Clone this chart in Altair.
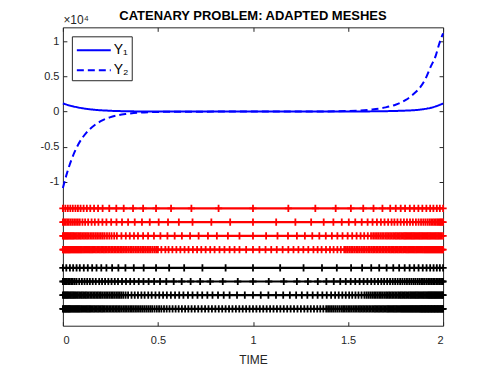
import altair as alt
import pandas as pd

# ---- solution curves (values in units of 10^4) ----
y1_time = [0.0, 0.053, 0.106, 0.158, 0.247, 0.35, 0.5, 0.75, 1.0, 1.25, 1.5, 1.65, 1.75, 1.804, 1.891, 1.944, 2.0]
y1_vals = [0.115, 0.075, 0.046, 0.028, 0.012, 0.004, 0.001, 0.0, 0.0, 0.0, 0.001, 0.004, 0.009, 0.014, 0.032, 0.06, 0.115]

y2_time = [0.0, 0.019, 0.045, 0.080, 0.124, 0.168, 0.210, 0.247, 0.290, 0.334, 0.404, 0.5, 0.7, 1.0, 1.3, 1.5,
           1.628, 1.698, 1.750, 1.804, 1.839, 1.882, 1.909, 1.935, 1.962, 1.979, 2.0]
y2_vals = [-1.09, -0.90, -0.687, -0.473, -0.300, -0.190, -0.122, -0.083, -0.052, -0.033, -0.013, -0.005, -0.001,
           0.0, 0.001, 0.008, 0.030, 0.060, 0.098, 0.166, 0.237, 0.355, 0.475, 0.64, 0.800, 0.960, 1.114]

series_names = ["Y\u2081", "Y\u2082"]

# ---- adapted meshes ----
mesh_levels = [-1.38, -1.575, -1.77, -1.965, -2.225, -2.42, -2.615, -2.81]
mesh_colors = ["#ff0000", "#ff0000", "#ff0000", "#ff0000", "#000000", "#000000", "#000000", "#000000"]

mesh_r1 = [0.000, 0.013, 0.026, 0.039, 0.052, 0.066, 0.079, 0.093, 0.109, 0.126, 0.144, 0.164, 0.185, 0.209,
           0.244, 0.281, 0.320, 0.369, 0.422, 0.490, 0.569, 0.676, 0.819, 1.000, 1.186, 1.328, 1.435, 1.515,
           1.580, 1.634, 1.681, 1.722, 1.751, 1.777, 1.800, 1.825, 1.848, 1.870, 1.891, 1.912, 1.932, 1.949,
           1.967, 1.983, 2.000]

mesh_r2 = [0.000, 0.007, 0.015, 0.023, 0.031, 0.040, 0.049, 0.059, 0.069, 0.079, 0.089, 0.103, 0.117, 0.133,
           0.151, 0.168, 0.187, 0.208, 0.229, 0.254, 0.282, 0.311, 0.343, 0.378, 0.416, 0.457, 0.504, 0.553,
           0.610, 0.682, 0.781, 0.880, 1.000, 1.122, 1.223, 1.306, 1.372, 1.423, 1.467, 1.504, 1.538, 1.572,
           1.603, 1.629, 1.652, 1.673, 1.692, 1.711, 1.729, 1.744, 1.760, 1.777, 1.794, 1.810, 1.826, 1.841,
           1.857, 1.871, 1.884, 1.896, 1.907, 1.918, 1.928, 1.937, 1.946, 1.954, 1.962, 1.970, 1.976, 1.983,
           1.988, 1.994, 2.000]

mesh_r3 = [0.000, 0.005, 0.010, 0.015, 0.020, 0.025, 0.030, 0.036, 0.042, 0.048, 0.054, 0.060, 0.067, 0.074,
           0.081, 0.088, 0.095, 0.103, 0.111, 0.119, 0.127, 0.135, 0.144, 0.153, 0.162, 0.171, 0.180, 0.190,
           0.200, 0.210, 0.220, 0.232, 0.244, 0.256, 0.270, 0.284, 0.308, 0.331, 0.352, 0.374, 0.395, 0.422,
           0.448, 0.479, 0.513, 0.550, 0.588, 0.626, 0.669, 0.714, 0.763, 0.810, 0.868, 0.929, 1.000, 1.069,
           1.129, 1.184, 1.231, 1.273, 1.312, 1.349, 1.383, 1.415, 1.444, 1.471, 1.498, 1.522, 1.545, 1.566,
           1.585, 1.604, 1.621, 1.632, 1.642, 1.652, 1.661, 1.670, 1.679, 1.688, 1.697, 1.705, 1.713, 1.721,
           1.729, 1.737, 1.745, 1.752, 1.759, 1.766, 1.773, 1.780, 1.787, 1.794, 1.800, 1.806, 1.812, 1.818,
           1.824, 1.830, 1.836, 1.842, 1.848, 1.854, 1.860, 1.866, 1.872, 1.878, 1.884, 1.890, 1.896, 1.902,
           1.908, 1.914, 1.920, 1.926, 1.932, 1.938, 1.944, 1.950, 1.956, 1.962, 1.968, 1.974, 1.980, 1.986,
           1.992, 2.000]

mesh_r4 = [0.000, 0.004, 0.008, 0.012, 0.016, 0.020, 0.024, 0.028, 0.032, 0.036, 0.040, 0.045, 0.050, 0.055,
           0.060, 0.065, 0.070, 0.075, 0.080, 0.085, 0.090, 0.095, 0.100, 0.106, 0.112, 0.118, 0.124, 0.130,
           0.136, 0.142, 0.148, 0.154, 0.160, 0.167, 0.174, 0.181, 0.188, 0.195, 0.202, 0.209, 0.216, 0.223,
           0.230, 0.238, 0.246, 0.254, 0.262, 0.270, 0.278, 0.286, 0.294, 0.302, 0.310, 0.318, 0.327, 0.336,
           0.345, 0.354, 0.363, 0.372, 0.381, 0.390, 0.399, 0.408, 0.417, 0.426, 0.435, 0.444, 0.453, 0.462,
           0.472, 0.482, 0.491, 0.500, 0.518, 0.539, 0.556, 0.576, 0.597, 0.618, 0.640, 0.661, 0.684, 0.706,
           0.728, 0.751, 0.775, 0.798, 0.824, 0.850, 0.877, 0.903, 0.929, 0.964, 1.000, 1.034, 1.066, 1.096,
           1.125, 1.156, 1.186, 1.213, 1.239, 1.265, 1.291, 1.318, 1.340, 1.361, 1.384, 1.405, 1.424, 1.444,
           1.462, 1.480, 1.489, 1.498, 1.507, 1.516, 1.525, 1.534, 1.543, 1.552, 1.561, 1.570, 1.579, 1.588,
           1.597, 1.606, 1.615, 1.624, 1.632, 1.640, 1.648, 1.656, 1.664, 1.672, 1.680, 1.688, 1.696, 1.704,
           1.712, 1.720, 1.727, 1.734, 1.741, 1.748, 1.755, 1.762, 1.769, 1.776, 1.783, 1.790, 1.797, 1.804,
           1.810, 1.816, 1.822, 1.828, 1.834, 1.840, 1.846, 1.852, 1.858, 1.864, 1.870, 1.876, 1.882, 1.888,
           1.894, 1.900, 1.905, 1.910, 1.915, 1.920, 1.925, 1.930, 1.935, 1.940, 1.945, 1.950, 1.955, 1.960,
           1.965, 1.970, 1.975, 1.980, 1.985, 1.990, 1.995, 2.000]

mesh_b5 = [0.000, 0.018, 0.037, 0.054, 0.072, 0.089, 0.110, 0.131, 0.154, 0.177, 0.202, 0.229, 0.259, 0.292,
           0.329, 0.373, 0.425, 0.490, 0.559, 0.638, 0.734, 0.856, 1.000, 1.143, 1.266, 1.363, 1.441, 1.516,
           1.574, 1.622, 1.664, 1.703, 1.738, 1.769, 1.798, 1.824, 1.848, 1.871, 1.893, 1.913, 1.932, 1.950,
           1.967, 1.983, 2.000]

mesh_b6 = [0.000, 0.007, 0.014, 0.021, 0.028, 0.036, 0.044, 0.052, 0.062, 0.072, 0.086, 0.100, 0.114, 0.128,
           0.142, 0.157, 0.173, 0.191, 0.206, 0.222, 0.239, 0.256, 0.273, 0.290, 0.311, 0.332, 0.354, 0.375,
           0.399, 0.424, 0.451, 0.480, 0.511, 0.544, 0.583, 0.625, 0.672, 0.722, 0.775, 0.841, 0.920, 1.000,
           1.083, 1.162, 1.231, 1.289, 1.341, 1.386, 1.425, 1.459, 1.488, 1.514, 1.538, 1.561, 1.582, 1.602,
           1.622, 1.640, 1.658, 1.675, 1.690, 1.706, 1.721, 1.735, 1.748, 1.761, 1.774, 1.786, 1.798, 1.810,
           1.822, 1.833, 1.844, 1.854, 1.865, 1.875, 1.885, 1.894, 1.903, 1.913, 1.922, 1.931, 1.940, 1.948,
           1.956, 1.965, 1.973, 1.981, 1.989, 1.995, 2.000]

mesh_b7 = [0.000, 0.005, 0.010, 0.015, 0.020, 0.025, 0.030, 0.036, 0.042, 0.048, 0.054, 0.060, 0.066, 0.072,
           0.079, 0.086, 0.093, 0.100, 0.107, 0.114, 0.121, 0.128, 0.136, 0.144, 0.152, 0.160, 0.168, 0.176,
           0.184, 0.192, 0.200, 0.209, 0.218, 0.227, 0.236, 0.245, 0.254, 0.263, 0.272, 0.281, 0.290, 0.299,
           0.308, 0.318, 0.330, 0.343, 0.361, 0.378, 0.395, 0.413, 0.430, 0.449, 0.467, 0.487, 0.507, 0.527,
           0.547, 0.568, 0.590, 0.612, 0.634, 0.658, 0.682, 0.708, 0.733, 0.760, 0.787, 0.816, 0.846, 0.877,
           0.916, 0.957, 1.000, 1.041, 1.081, 1.121, 1.159, 1.194, 1.227, 1.257, 1.286, 1.314, 1.340, 1.365,
           1.388, 1.411, 1.432, 1.451, 1.470, 1.488, 1.506, 1.522, 1.539, 1.555, 1.571, 1.586, 1.597, 1.607,
           1.617, 1.627, 1.637, 1.646, 1.655, 1.664, 1.673, 1.682, 1.691, 1.700, 1.708, 1.716, 1.724, 1.732,
           1.740, 1.748, 1.756, 1.764, 1.771, 1.778, 1.785, 1.792, 1.799, 1.806, 1.813, 1.820, 1.827, 1.833,
           1.839, 1.845, 1.851, 1.857, 1.863, 1.869, 1.875, 1.881, 1.887, 1.893, 1.899, 1.905, 1.911, 1.917,
           1.922, 1.927, 1.932, 1.937, 1.942, 1.947, 1.952, 1.957, 1.962, 1.967, 1.972, 1.977, 1.982, 1.987,
           1.992, 1.996, 2.000]

mesh_b8 = [0.000, 0.004, 0.008, 0.012, 0.016, 0.020, 0.024, 0.028, 0.032, 0.036, 0.040, 0.045, 0.050, 0.055,
           0.060, 0.065, 0.070, 0.075, 0.080, 0.085, 0.090, 0.096, 0.102, 0.108, 0.114, 0.120, 0.126, 0.132,
           0.138, 0.144, 0.150, 0.157, 0.164, 0.171, 0.178, 0.185, 0.192, 0.199, 0.206, 0.213, 0.220, 0.228,
           0.236, 0.244, 0.252, 0.260, 0.268, 0.276, 0.284, 0.292, 0.300, 0.309, 0.318, 0.327, 0.336, 0.345,
           0.354, 0.363, 0.372, 0.381, 0.390, 0.400, 0.410, 0.420, 0.430, 0.440, 0.450, 0.460, 0.470, 0.482,
           0.494, 0.506, 0.518, 0.532, 0.546, 0.561, 0.577, 0.593, 0.609, 0.626, 0.643, 0.660, 0.677, 0.694,
           0.712, 0.730, 0.748, 0.766, 0.784, 0.802, 0.820, 0.838, 0.856, 0.874, 0.892, 0.910, 0.928, 0.946,
           0.964, 0.982, 1.000, 1.018, 1.036, 1.054, 1.072, 1.090, 1.108, 1.126, 1.144, 1.162, 1.180, 1.198,
           1.216, 1.234, 1.252, 1.270, 1.287, 1.304, 1.321, 1.338, 1.354, 1.370, 1.385, 1.395, 1.405, 1.415,
           1.425, 1.435, 1.445, 1.455, 1.465, 1.474, 1.483, 1.492, 1.501, 1.510, 1.519, 1.528, 1.537, 1.546,
           1.555, 1.563, 1.571, 1.579, 1.587, 1.595, 1.603, 1.611, 1.619, 1.627, 1.635, 1.642, 1.649, 1.656,
           1.663, 1.670, 1.677, 1.684, 1.691, 1.698, 1.705, 1.711, 1.717, 1.723, 1.729, 1.735, 1.741, 1.747,
           1.753, 1.759, 1.765, 1.771, 1.777, 1.782, 1.787, 1.792, 1.797, 1.802, 1.807, 1.812, 1.817, 1.822,
           1.827, 1.832, 1.837, 1.842, 1.847, 1.852, 1.857, 1.862, 1.867, 1.872, 1.877, 1.881, 1.885, 1.889,
           1.893, 1.897, 1.901, 1.905, 1.909, 1.913, 1.917, 1.921, 1.925, 1.929, 1.933, 1.937, 1.941, 1.945,
           1.949, 1.953, 1.957, 1.961, 1.965, 1.969, 1.973, 1.977, 1.981, 1.985, 1.989, 1.993, 1.997, 2.000]

meshes = [mesh_r1, mesh_r2, mesh_r3, mesh_r4, mesh_b5, mesh_b6, mesh_b7, mesh_b8]

x_ticks = [0, 0.5, 1, 1.5, 2]
y_ticks = [-1, -0.5, 0, 0.5, 1]

# ---- tables ----
curve_rows = []
for t, v in zip(y1_time, y1_vals):
    curve_rows.append({"t": t, "v": v, "series": series_names[0]})
for t, v in zip(y2_time, y2_vals):
    curve_rows.append({"t": t, "v": v, "series": series_names[1]})
curve_df = pd.DataFrame(curve_rows)

mesh_rows = []
for i, (pts, lev, col) in enumerate(zip(meshes, mesh_levels, mesh_colors)):
    for t in pts:
        mesh_rows.append({"t": t, "level": lev, "mesh": i, "col": col})
mesh_df = pd.DataFrame(mesh_rows)

FONT = "Liberation Sans"
AX = "#262626"

xscale = alt.Scale(domain=[0, 2], nice=False, zero=False)
yscale = alt.Scale(domain=[-3.05, 1.2], nice=False, zero=False)

x_label_axis = alt.Axis(values=x_ticks, labelExpr="'' + datum.value", title="TIME", ticks=False, tickSize=0,
                        domain=False, grid=False, labelFontSize=11, labelPadding=9, labelFont=FONT,
                        labelColor=AX, titleFont=FONT, titleFontSize=12, titleFontWeight="normal",
                        titleColor=AX, titlePadding=9)
y_label_axis = alt.Axis(values=y_ticks, labelExpr="'' + datum.value", title="\u00d710\u2074", titleAngle=0,
                        titleX=0, titleY=-4, titleAlign="left", titleBaseline="alphabetic", titleFont=FONT,
                        titleFontSize=12, titleFontWeight="normal", titleColor=AX, ticks=False, tickSize=0,
                        domain=False, grid=False, labelPadding=4, labelFontSize=11, labelFont=FONT,
                        labelColor=AX)

def tick_axis(orient, vals):
    return alt.Axis(orient=orient, values=vals, offset=-4, tickSize=4, tickColor=AX, tickWidth=1,
                    labels=False, domain=False, grid=False, title=None)

curves = alt.Chart(curve_df).mark_line(color="#0000ff", strokeWidth=2, interpolate="monotone").encode(
    x=alt.X("t:Q", scale=xscale, axis=x_label_axis),
    y=alt.Y("v:Q", scale=yscale, axis=y_label_axis),
    strokeDash=alt.StrokeDash(
        "series:N",
        scale=alt.Scale(domain=series_names, range=[[1, 0], [7, 4]]),
        legend=alt.Legend(title=None, orient="top-left", offset=9, strokeColor=AX, fillColor="white",
                          padding=3, symbolType="M-1.7,0H1.7", symbolStrokeWidth=2,
                          symbolStrokeColor="#0000ff", symbolSize=400, symbolOffset=8,
                          labelFontSize=14, labelFont=FONT, labelColor="#000000",
                          rowPadding=2, labelOffset=9),
    ),
)

mesh_lines = alt.Chart(mesh_df).mark_line(strokeWidth=2.2).encode(
    x=alt.X("t:Q", scale=xscale, axis=tick_axis("bottom", x_ticks)),
    y=alt.Y("level:Q", scale=yscale, axis=tick_axis("left", y_ticks)),
    detail="mesh:N",
    color=alt.Color("col:N", scale=None),
)

mesh_marks = alt.Chart(mesh_df).mark_point(shape="M-1,0H1M0,-1V1", filled=False, size=52, strokeWidth=1.8,
                                            opacity=1).encode(
    x=alt.X("t:Q", scale=xscale, axis=tick_axis("top", x_ticks)),
    y=alt.Y("level:Q", scale=yscale, axis=tick_axis("right", y_ticks)),
    color=alt.Color("col:N", scale=None),
)

chart = alt.layer(curves, mesh_lines, mesh_marks).resolve_axis(
    x="independent", y="independent"
).properties(
    width=381,
    height=299,
    autosize="none",
    padding={"left": 55, "top": 19, "right": 40, "bottom": 40},
    title=alt.TitleParams("CATENARY PROBLEM: ADAPTED MESHES", font=FONT, fontSize=13, fontWeight="bold",
                          color="#000000", anchor="middle", baseline="alphabetic", offset=5, dy=25),
).configure_view(stroke=AX, strokeWidth=1)

chart.save("out.html", embed_options={"renderer": "svg", "actions": False})
